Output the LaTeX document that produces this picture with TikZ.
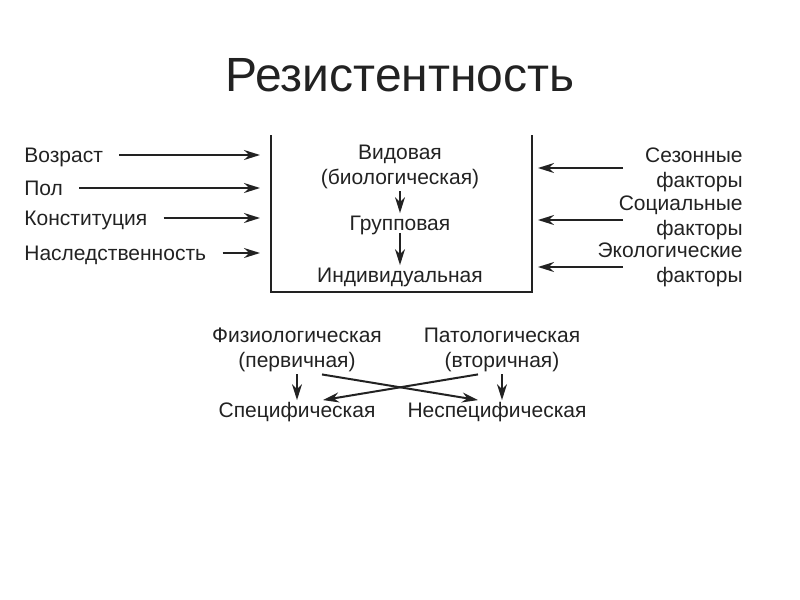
\documentclass[tikz,border=0pt]{standalone}
\usepackage{fontspec}
\setmainfont{Liberation Sans}
\usetikzlibrary{arrows.meta}
\definecolor{ink}{HTML}{222222}

\begin{document}
\begin{tikzpicture}[x=0.5pt, y=-0.5pt, >={Stealth[length=8pt,width=5pt]}]
	\tikzstyle{every node} = [rectangle, inner sep=1pt, text=ink, font=\fontsize{10.5}{12.6}\selectfont]
	\tikzstyle{one} = [text height=7.5pt, text depth=0pt]
	\tikzstyle{lbl} = [one, anchor=west]
	\tikzstyle{fac} = [anchor=east, align=right]
	\tikzstyle{arr} = [->, draw=ink, line width=1pt]
	\tikzstyle{frame} = [draw=ink, line width=1.2pt]
	\useasboundingbox (0,0) rectangle (800,600);
	\node (title) at (400,75) {\fontsize{24}{28}\selectfont Резистентность};
	\node (box) at (401.5,213.5) [minimum width=130.5pt, minimum height=78.5pt, inner sep=0pt, outer sep=0pt] {};
	\draw [frame] (box.north west) -- (box.south west) -- (box.south east) -- (box.north east);
	\node (age)  at (22,155) [lbl] {Возраст};
	\node (sex)  at (22,188) [lbl] {Пол};
	\node (cons) at (22,218) [lbl] {Конституция};
	\node (her)  at (22,253) [lbl] {Наследственность};
	\draw [arr, shorten <=7pt, shorten >=5.5pt] (age.east)  -- (age.east -| box.west);
	\draw [arr, shorten <=7pt, shorten >=5.5pt] (sex.east)  -- (sex.east -| box.west);
	\draw [arr, shorten <=7pt, shorten >=5.5pt] (cons.east) -- (cons.east -| box.west);
	\draw [arr, shorten <=7pt, shorten >=5.5pt] (her.east)  -- (her.east -| box.west);
	\node (vid)  at (400,167) [align=center] {Видовая\\(биологическая)};
	\node (grp)  at (400,223) [one] {Групповая};
	\node (ind)  at (400,275) [one] {Индивидуальная};
	\draw [arr]  (vid) -- (grp);
	\draw [arr]  (grp) -- (ind);
	\node (sez)  at (745,170) [fac] {Сезонные\\факторы};
	\node (soc)  at (745,218) [fac] {Социальные\\факторы};
	\node (eco)  at (745,265) [fac] {Экологические\\факторы};
	\coordinate (sezA) at (623,168);
	\coordinate (socA) at (623,220);
	\coordinate (ecoA) at (623,267);
	\draw [arr, shorten >=3pt] (sezA) -- (sezA -| box.east);
	\draw [arr, shorten >=3pt] (socA) -- (socA -| box.east);
	\draw [arr, shorten >=3pt] (ecoA) -- (ecoA -| box.east);
	\node (fiz)  at (297,350) [align=center] {Физиологическая\\(первичная)};
	\node (pat)  at (502,350) [align=center] {Патологическая\\(вторичная)};
	\node (spec) at (297,410) [one] {Специфическая};
	\node (nesp) at (497,410) [one] {Неспецифическая};
	\draw [arr]  (fiz) -- (spec);
	\draw [arr]  (pat.south) -- (pat.south |- nesp.north);
	\draw [arr]  ([xshift=12.5pt]fiz.south) -- ([xshift=-9.5pt]nesp.north);
	\draw [arr]  ([xshift=-12pt]pat.south) -- ([xshift=13pt]spec.north);
\end{tikzpicture}
\end{document}
